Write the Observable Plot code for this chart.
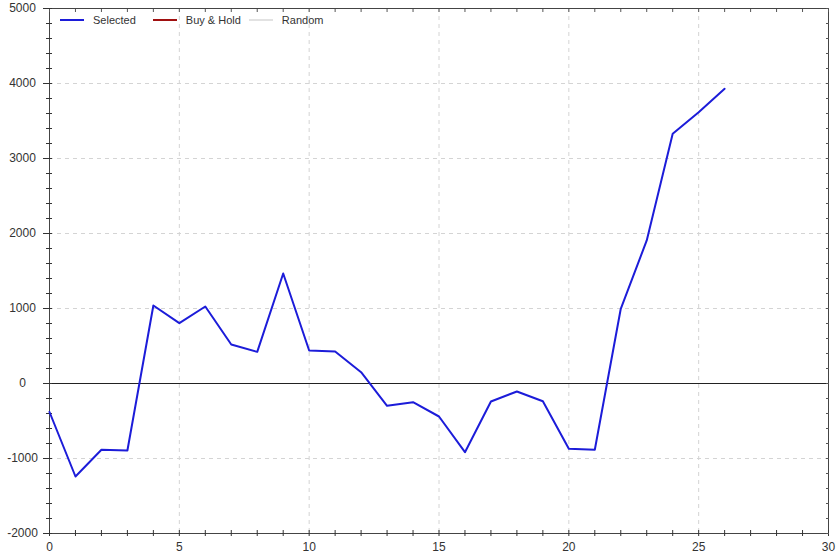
<!DOCTYPE html>
<html>
<head>
<meta charset="utf-8">
<script src="https://cdn.jsdelivr.net/npm/d3@7"></script>
<script src="https://cdn.jsdelivr.net/npm/@observablehq/plot@0.6"></script>
<style>
  html, body { margin: 0; padding: 0; background: #fff; }
  #wrap { position: relative; width: 839px; height: 558px; font-family: "Liberation Sans", Arial, sans-serif; }
  #legend { position: absolute; left: 60px; top: 14px; display: flex; align-items: center; font-size: 11px; color: #333; }
  #legend .item { display: flex; align-items: center; }
  #legend .sw { width: 24px; height: 0; border-top: 2px solid; margin-right: 9px; }
</style>
</head>
<body>
<div id="wrap"><div id="legend"></div></div>
<script>
const periods = d3.range(0, 27);
const selected = [-380, -1240, -884, -893, 1040, 804, 1027, 520, 422, 1467, 440, 427, 151, -298, -249, -440, -916, -240, -107, -236, -871, -884, 996, 1907, 3329, 3618, 3929];
const seriesNames = ["Selected", "Buy & Hold", "Random"];
const seriesColors = ["#1c1cd9", "#a01010", "#e2e2e2"];
const xTicks = [0, 5, 10, 15, 20, 25, 30];
const yTicks = [-2000, -1000, 0, 1000, 2000, 3000, 4000, 5000];
const xMinor = d3.range(0, 31, 1);
const yMinor = d3.range(-2000, 5001, 200);

const data = periods.map((p, i) => ({x: p, y: selected[i]}));
const fmt = d => String(d);

const chart = Plot.plot({
  width: 839,
  height: 558,
  marginLeft: 49,
  marginRight: 11,
  marginTop: 8,
  marginBottom: 25,
  style: {fontFamily: "Liberation Sans, Arial, sans-serif", fontSize: "12px", color: "#333", background: "#fff"},
  x: {domain: [0, 30]},
  y: {domain: [-2000, 5000]},
  marks: [
    Plot.gridX(xTicks.slice(1, -1), {stroke: "#d4d4d4", strokeOpacity: 1, strokeDasharray: "4,4"}),
    Plot.gridY(yTicks.slice(1, -1), {stroke: "#d4d4d4", strokeOpacity: 1, strokeDasharray: "4,4"}),
    Plot.ruleY([0], {stroke: "#222", strokeWidth: 1}),
    Plot.frame({stroke: "#444"}),
    // minor ticks
    Plot.axisX(xMinor, {anchor: "bottom", tickSize: 6, dy: -3, text: null, label: null, stroke: "#333"}),
    Plot.axisX(xMinor, {anchor: "top", tickSize: -3, text: null, label: null, stroke: "#555"}),
    Plot.axisY(yMinor, {anchor: "left", tickSize: 6, dx: 3, text: null, label: null, stroke: "#333"}),
    Plot.axisY(yMinor, {anchor: "right", tickSize: -3, text: null, label: null, stroke: "#555"}),
    Plot.axisY(yTicks, {anchor: "left", tickSize: 9, dx: 3, text: null, label: null, stroke: "#333"}),
    // labels
    Plot.axisX(xTicks, {anchor: "bottom", tickSize: 0, tickPadding: 9, label: null, tickFormat: fmt, fill: "#333", fontSize: 12}),
    Plot.axisY(yTicks, {anchor: "left", tickSize: 0, tickPadding: 27, textAnchor: "middle", label: null, tickFormat: fmt, fill: "#333", fontSize: 12}),
    Plot.line(data, {x: "x", y: "y", stroke: seriesColors[0], strokeWidth: 2})
  ]
});
document.getElementById("wrap").prepend(chart);

const legend = document.getElementById("legend");
const gaps = ["17px", "8px", "0px"];
seriesNames.forEach((n, i) => {
  const it = document.createElement("div");
  it.className = "item";
  it.style.marginRight = gaps[i];
  const sw = document.createElement("div");
  sw.className = "sw";
  sw.style.borderTopColor = seriesColors[i];
  const t = document.createElement("span");
  t.textContent = n;
  it.append(sw, t);
  legend.append(it);
});
</script>
</body>
</html>
